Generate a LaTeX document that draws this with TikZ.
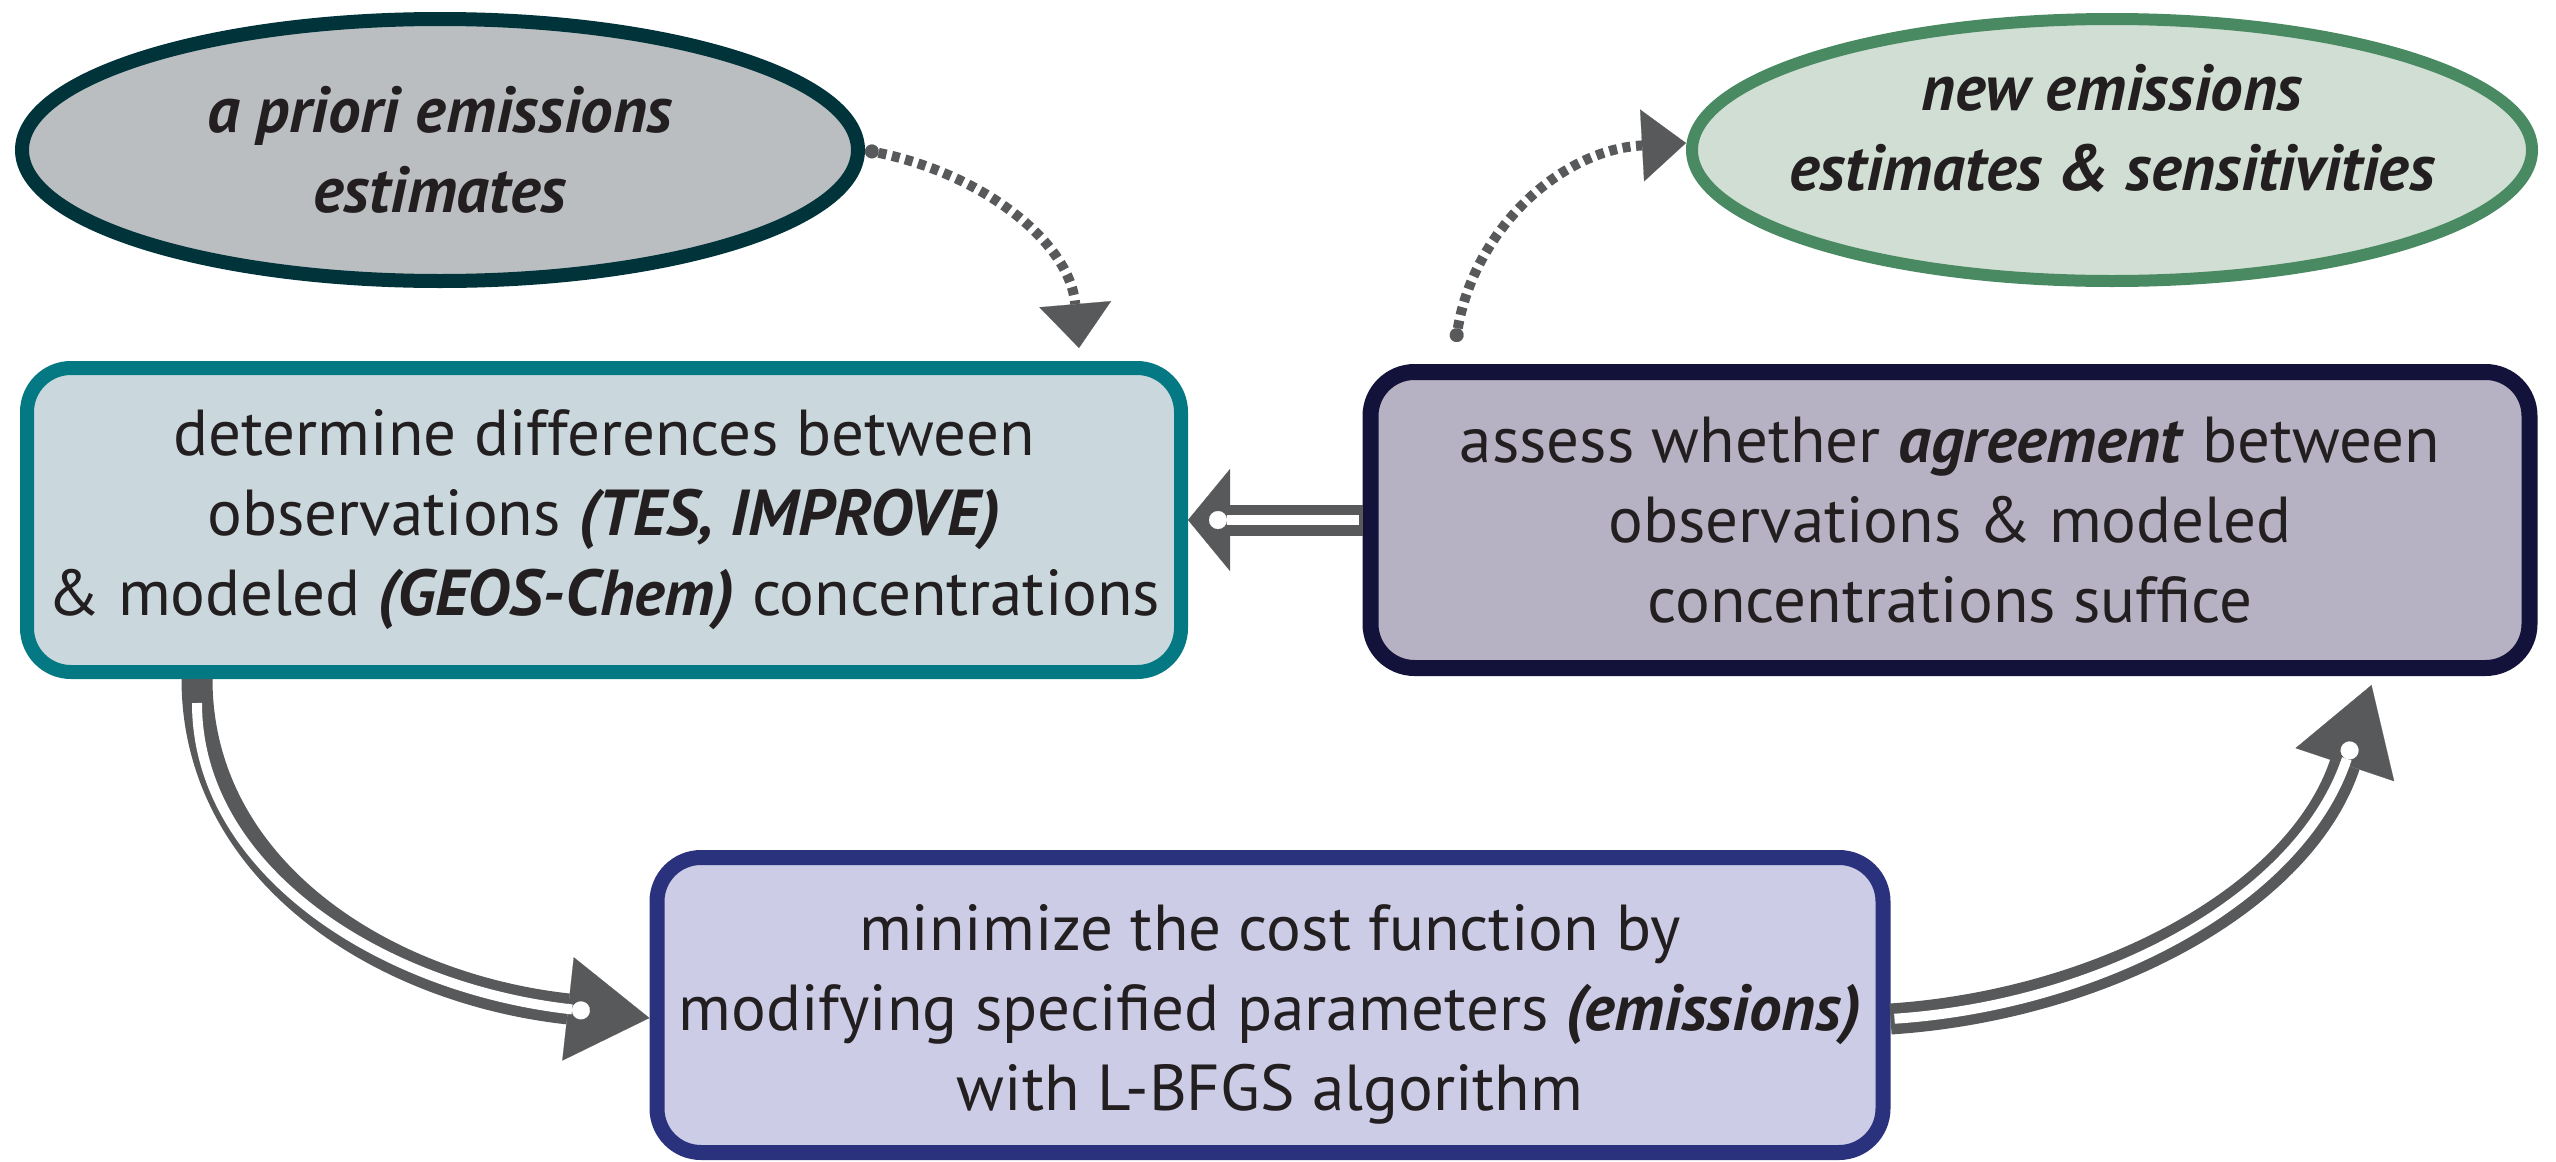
\documentclass[tikz,border=0pt]{standalone}
\usepackage{fontspec}
\setmainfont{PT Sans}
\usetikzlibrary{shapes.geometric,arrows.meta,calc}
\definecolor{ink}{HTML}{231F20}
\definecolor{agray}{HTML}{58595B}
\definecolor{leFill}{HTML}{BBBEC1}
\definecolor{leDraw}{HTML}{00333A}
\definecolor{reFill}{HTML}{D1DED4}
\definecolor{reDraw}{HTML}{4A8A62}
\definecolor{lbFill}{HTML}{CAD8DE}
\definecolor{lbDraw}{HTML}{047983}
\definecolor{rbFill}{HTML}{B6B2C3}
\definecolor{rbDraw}{HTML}{13123A}
\definecolor{bbFill}{HTML}{CCCCE6}
\definecolor{bbDraw}{HTML}{2A327E}
\newcommand{\bfit}[1]{\textbf{\textit{#1}}}
\begin{document}
\begin{tikzpicture}[x=0.5pt,y=-0.5pt,
  txt/.style={font=\fontsize{32.5pt}{40pt}\selectfont, text=ink, align=center},
  ell/.style={ellipse, txt, inner xsep=-45pt, inner ysep=0pt, minimum height=131pt,
    font=\fontsize{32.5pt}{40pt}\selectfont\bfseries\itshape},
  boxst/.style={rectangle, rounded corners=22pt, txt, inner sep=0pt},
  shaft/.style={draw=agray, line width=15.5pt},
  core/.style={draw=white, line width=5pt},
  dotline/.style={draw=agray, line width=5pt, dash pattern=on 4pt off 2.8pt}
]
\useasboundingbox (0,0) rectangle (2556,1162);

% nodes
\node[ell, fill=leFill, draw=leDraw, line width=7pt, minimum width=418pt] (le) at (440,150)
  {a priori emissions\\estimates};
\node[ell, fill=reFill, draw=reDraw, line width=6pt, minimum width=420pt] (re) at (2112,150)
  {new emissions\\estimates \& sensitivities\\[-17pt]\mbox{}};
\node[boxst, fill=lbFill, draw=lbDraw, line width=7pt, minimum width=577pt, minimum height=152pt] (lb) at (604,520)
  {determine differences between\\observations \bfit{(TES, IMPROVE)}\\\& modeled \bfit{(GEOS-Chem)} concentrations};
\node[boxst, fill=rbFill, draw=rbDraw, line width=8pt, minimum width=579.5pt, minimum height=148pt] (rb) at (1950,520)
  {assess whether \bfit{agreement} between\\observations \& modeled\\concentrations suffice};
\node[boxst, fill=bbFill, draw=bbDraw, line width=7.5pt, minimum width=613pt, minimum height=147.5pt] (bb) at (1270,1005)
  {\mbox{}\\[-8pt]minimize the cost function by\\modifying specified parameters \bfit{(emissions)}\\with L-BFGS algorithm};

% big arrow: assess -> determine
\draw[shaft, -{Triangle[length=21pt,width=51pt,line width=0.1pt]}] (rb.west) -- (lb.east);
\draw[core, shorten <=2pt, shorten >=10.5pt, -{Circle[length=9pt,line width=0.1pt]}] (rb.west) -- (lb.east);

% big arrow: determine -> minimize
\coordinate (a2s) at ($(lb.south west)+(177,0)$);
\coordinate (a2e) at ($(bb.west)+(0,13)$);
\draw[shaft, -{Triangle[length=41pt,width=52pt,line width=0.1pt]}] (a2s) .. controls +(0,190) and +(-270,-30) .. (a2e);
\draw[core, shorten <=12pt, shorten >=30pt, -{Circle[length=9pt,line width=0.1pt]}] (a2s) .. controls +(0,190) and +(-270,-30) .. (a2e);

% big arrow: minimize -> assess
\coordinate (a3s) at ($(bb.east)+(0,14)$);
\coordinate (a3e) at ($(rb.south east)+(-166,9)$);
\draw[shaft, -{Triangle[length=42pt,width=52pt,line width=0.1pt]}] (a3s) .. controls +(210,-14) and +(-72,215) .. (a3e);
\draw[core, shorten <=2pt, shorten >=30pt, -{Circle[length=9pt,line width=0.1pt]}] (a3s) .. controls +(210,-14) and +(-72,215) .. (a3e);

% dotted arrow: a priori -> determine
\coordinate (d1e) at ($(lb.north west)+(1059,-13)$);
\draw[dotline, {Circle[length=7pt,line width=0.1pt]}-{Triangle[length=22pt,width=36pt,line width=0.1pt]}]
  (le.east) .. controls +(120,25) and +(-9,-105) .. (d1e);

% dotted arrow: assess -> new emissions
\coordinate (d2s) at ($(rb.north west)+(93,-22)$);
\coordinate (d2e) at ($(re.west)+(0,-7)$);
\draw[dotline, {Circle[length=7pt,line width=0.1pt]}-{Triangle[length=22pt,width=36pt,line width=0.1pt]}]
  (d2s) .. controls +(19,-112) and +(-126,7) .. (d2e);
\end{tikzpicture}
\end{document}
